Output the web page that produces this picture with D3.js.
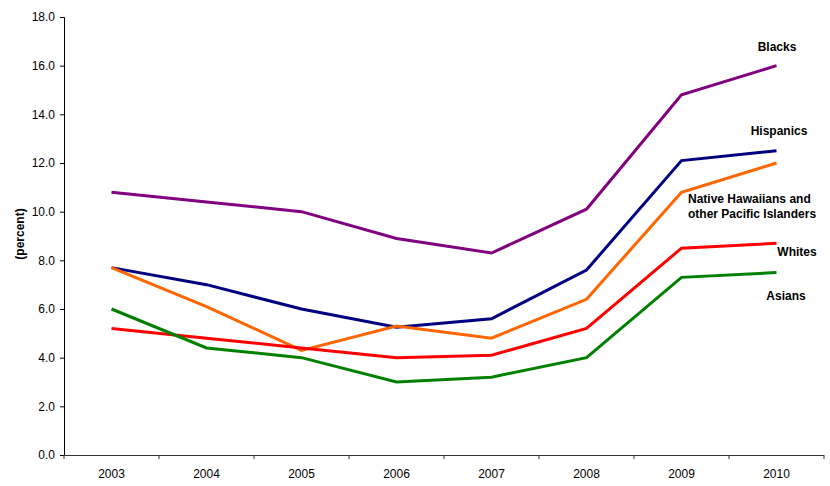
<!DOCTYPE html>
<html><head><meta charset="utf-8">
<script src="https://cdn.jsdelivr.net/npm/d3@7"></script>
<style>body{margin:0;background:#fff}svg{display:block;font-family:"Liberation Sans",Arial,sans-serif}</style>
</head><body>
<svg id="c" width="830" height="486"></svg>
<script>
const years = ["2003","2004","2005","2006","2007","2008","2009","2010"];
const blacks    = [10.8, 10.4, 10.0, 8.9, 8.3, 10.1, 14.8, 16.0];
const hispanics = [7.7, 7.0, 6.0, 5.25, 5.6, 7.6, 12.1, 12.5];
const nhpi      = [7.7, 6.1, 4.3, 5.3, 4.8, 6.4, 10.8, 12.0];
const whites    = [5.2, 4.8, 4.4, 4.0, 4.1, 5.2, 8.5, 8.7];
const asians    = [6.0, 4.4, 4.0, 3.0, 3.2, 4.0, 7.3, 7.5];
const yTicks = [0,2,4,6,8,10,12,14,16,18];

const series = [
  {name:["Blacks"], values:blacks, color:"#800080", lx:777, ly:[51], anchor:"middle"},
  {name:["Hispanics"], values:hispanics, color:"#000080", lx:779, ly:[135], anchor:"middle"},
  {name:["Native Hawaiians and","other Pacific Islanders"], values:nhpi, color:"#FF6600", lx:688, ly:[203,218], anchor:"start"},
  {name:["Whites"], values:whites, color:"#FF0000", lx:797, ly:[256], anchor:"middle"},
  {name:["Asians"], values:asians, color:"#008000", lx:786, ly:[300], anchor:"middle"}
];

const svg = d3.select("#c");
const x = d3.scaleBand().domain(years).range([64, 824]);
const y = d3.scaleLinear().domain([0, 18]).range([455, 17]);

// y axis
const ya = svg.append("g").attr("transform","translate(64,0)")
  .call(d3.axisLeft(y).tickValues(yTicks).tickFormat(d3.format(".1f")).tickSizeOuter(0).tickSize(4).tickPadding(5));
ya.select(".domain").attr("stroke","#000");
ya.selectAll(".tick line").attr("stroke","#000");
ya.selectAll("text").attr("font-size","12px").attr("fill","#000");

// x axis
const xa = svg.append("g").attr("transform","translate(0,455)")
  .call(d3.axisBottom(x).tickSize(0).tickPadding(14));
xa.select(".domain").attr("stroke","#333").attr("d","M64,0.5H824");
xa.selectAll("text").attr("font-size","12px").attr("fill","#000");
// boundary ticks
const bounds = years.map(d => x(d)).concat([x.range()[1]]);
xa.selectAll(".bt").data(bounds).enter().append("line").attr("class","bt")
  .attr("x1",d=>d).attr("x2",d=>d).attr("y1",0).attr("y2",4).attr("stroke","#333");

// y label
svg.append("text").attr("transform","translate(24,234) rotate(-90)")
  .attr("text-anchor","middle").attr("font-size","12px").attr("font-weight","bold").text("(percent)");

const line = d3.line().x((d,i)=>x(years[i])+x.bandwidth()/2).y(d=>y(d));
series.forEach(s=>{
  svg.append("path").attr("d",line(s.values)).attr("fill","none")
    .attr("stroke",s.color).attr("stroke-width",3).attr("stroke-linejoin","miter");
  s.name.forEach((t,i)=>{
    svg.append("text").attr("x",s.lx).attr("y",s.ly[i]).attr("text-anchor",s.anchor)
      .attr("font-size","12px").attr("font-weight","bold").attr("fill","#000").text(t);
  });
});
</script>
</body></html>
